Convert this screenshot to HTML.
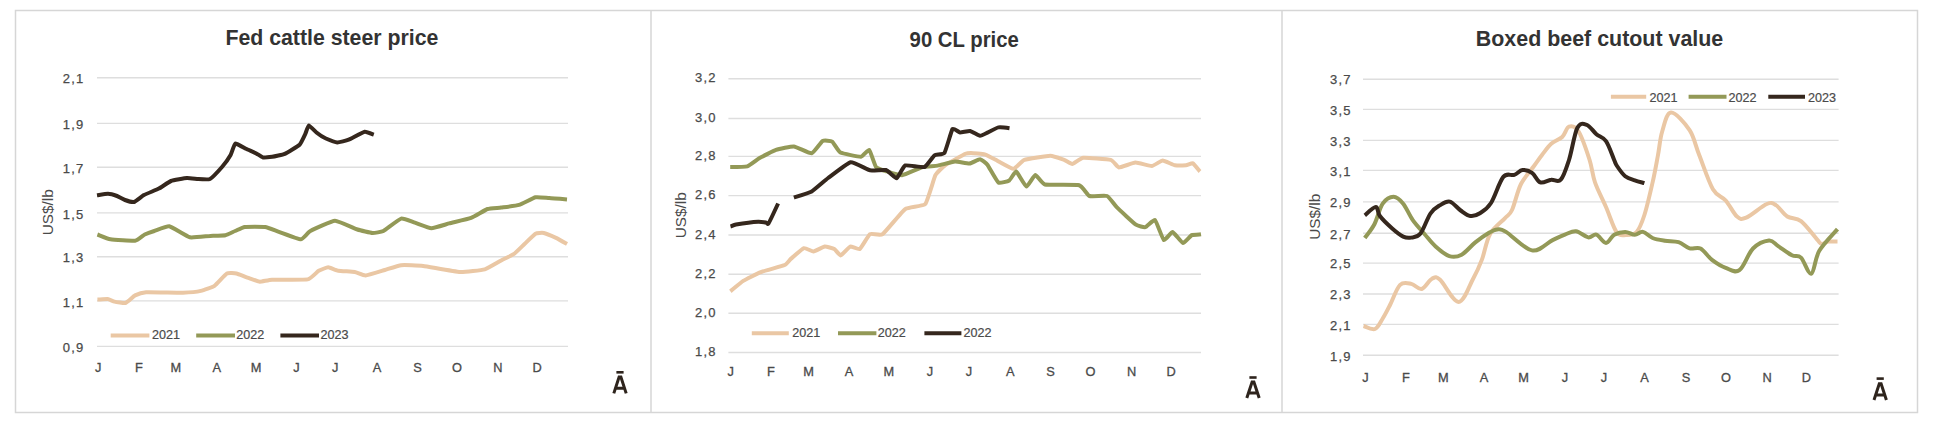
<!DOCTYPE html>
<html><head><meta charset="utf-8"><style>
html,body{margin:0;padding:0;background:#fff;width:1946px;height:438px;overflow:hidden}
svg{display:block}
text{font-family:"Liberation Sans",sans-serif}
</style></head><body>
<svg width="1946" height="438" viewBox="0 0 1946 438">
<rect x="0" y="0" width="1946" height="438" fill="#fff"/>

<rect x="15.5" y="10.5" width="1902" height="402" fill="none" stroke="#d6d6d6" stroke-width="1.5"/>
<line x1="651" y1="10.5" x2="651" y2="412.5" stroke="#d6d6d6" stroke-width="1.5"/>
<line x1="1282" y1="10.5" x2="1282" y2="412.5" stroke="#d6d6d6" stroke-width="1.5"/>
<line x1="97" y1="77.8" x2="568" y2="77.8" stroke="#dedede" stroke-width="1.4"/>
<text x="62.8" y="83.4" font-size="13" fill="#4a4a4a" stroke="#4a4a4a" stroke-width="0.25" textLength="20.5" lengthAdjust="spacing">2,1</text>
<line x1="97" y1="123.4" x2="568" y2="123.4" stroke="#dedede" stroke-width="1.4"/>
<text x="62.8" y="129.0" font-size="13" fill="#4a4a4a" stroke="#4a4a4a" stroke-width="0.25" textLength="20.5" lengthAdjust="spacing">1,9</text>
<line x1="97" y1="167.3" x2="568" y2="167.3" stroke="#dedede" stroke-width="1.4"/>
<text x="62.8" y="172.9" font-size="13" fill="#4a4a4a" stroke="#4a4a4a" stroke-width="0.25" textLength="20.5" lengthAdjust="spacing">1,7</text>
<line x1="97" y1="212.9" x2="568" y2="212.9" stroke="#dedede" stroke-width="1.4"/>
<text x="62.8" y="218.5" font-size="13" fill="#4a4a4a" stroke="#4a4a4a" stroke-width="0.25" textLength="20.5" lengthAdjust="spacing">1,5</text>
<line x1="97" y1="256.7" x2="568" y2="256.7" stroke="#dedede" stroke-width="1.4"/>
<text x="62.8" y="262.3" font-size="13" fill="#4a4a4a" stroke="#4a4a4a" stroke-width="0.25" textLength="20.5" lengthAdjust="spacing">1,3</text>
<line x1="97" y1="300.9" x2="568" y2="300.9" stroke="#dedede" stroke-width="1.4"/>
<text x="62.8" y="306.5" font-size="13" fill="#4a4a4a" stroke="#4a4a4a" stroke-width="0.25" textLength="20.5" lengthAdjust="spacing">1,1</text>
<line x1="97" y1="346.4" x2="568" y2="346.4" stroke="#dedede" stroke-width="1.4"/>
<text x="62.8" y="352.0" font-size="13" fill="#4a4a4a" stroke="#4a4a4a" stroke-width="0.25" textLength="20.5" lengthAdjust="spacing">0,9</text>
<text x="225.4" y="45.4" font-size="22" font-weight="bold" fill="#333333" textLength="213" lengthAdjust="spacingAndGlyphs">Fed cattle steer price</text>
<text x="98.1" y="372" font-size="12.8" fill="#4a4a4a" stroke="#4a4a4a" stroke-width="0.3" text-anchor="middle">J</text>
<text x="139.0" y="372" font-size="12.8" fill="#4a4a4a" stroke="#4a4a4a" stroke-width="0.3" text-anchor="middle">F</text>
<text x="175.8" y="372" font-size="12.8" fill="#4a4a4a" stroke="#4a4a4a" stroke-width="0.3" text-anchor="middle">M</text>
<text x="216.7" y="372" font-size="12.8" fill="#4a4a4a" stroke="#4a4a4a" stroke-width="0.3" text-anchor="middle">A</text>
<text x="256.1" y="372" font-size="12.8" fill="#4a4a4a" stroke="#4a4a4a" stroke-width="0.3" text-anchor="middle">M</text>
<text x="296.4" y="372" font-size="12.8" fill="#4a4a4a" stroke="#4a4a4a" stroke-width="0.3" text-anchor="middle">J</text>
<text x="335.2" y="372" font-size="12.8" fill="#4a4a4a" stroke="#4a4a4a" stroke-width="0.3" text-anchor="middle">J</text>
<text x="377.0" y="372" font-size="12.8" fill="#4a4a4a" stroke="#4a4a4a" stroke-width="0.3" text-anchor="middle">A</text>
<text x="417.6" y="372" font-size="12.8" fill="#4a4a4a" stroke="#4a4a4a" stroke-width="0.3" text-anchor="middle">S</text>
<text x="457.0" y="372" font-size="12.8" fill="#4a4a4a" stroke="#4a4a4a" stroke-width="0.3" text-anchor="middle">O</text>
<text x="497.8" y="372" font-size="12.8" fill="#4a4a4a" stroke="#4a4a4a" stroke-width="0.3" text-anchor="middle">N</text>
<text x="537.0" y="372" font-size="12.8" fill="#4a4a4a" stroke="#4a4a4a" stroke-width="0.3" text-anchor="middle">D</text>
<path d="M613.8,393.4 L619.1,377.1 L620.9,377.1 L626.2,393.4 M616.2,388.3 L623.8,388.3" fill="none" stroke="#2e241d" stroke-width="3" stroke-linejoin="miter"/>
<rect x="616.4" y="371.0" width="7.2" height="2.6" fill="#2e241d"/>
<text transform="translate(52.6,212.2) rotate(-90)" font-size="14" fill="#4a4a4a" text-anchor="middle" textLength="46" lengthAdjust="spacingAndGlyphs">US$/lb</text>
<line x1="728.4" y1="78.8" x2="1201" y2="78.8" stroke="#dedede" stroke-width="1.4"/>
<text x="695" y="82.4" font-size="13" fill="#4a4a4a" stroke="#4a4a4a" stroke-width="0.25" textLength="20.5" lengthAdjust="spacing">3,2</text>
<line x1="728.4" y1="118.5" x2="1201" y2="118.5" stroke="#dedede" stroke-width="1.4"/>
<text x="695" y="122.1" font-size="13" fill="#4a4a4a" stroke="#4a4a4a" stroke-width="0.25" textLength="20.5" lengthAdjust="spacing">3,0</text>
<line x1="728.4" y1="156.4" x2="1201" y2="156.4" stroke="#dedede" stroke-width="1.4"/>
<text x="695" y="160.0" font-size="13" fill="#4a4a4a" stroke="#4a4a4a" stroke-width="0.25" textLength="20.5" lengthAdjust="spacing">2,8</text>
<line x1="728.4" y1="195.6" x2="1201" y2="195.6" stroke="#dedede" stroke-width="1.4"/>
<text x="695" y="199.2" font-size="13" fill="#4a4a4a" stroke="#4a4a4a" stroke-width="0.25" textLength="20.5" lengthAdjust="spacing">2,6</text>
<line x1="728.4" y1="235.0" x2="1201" y2="235.0" stroke="#dedede" stroke-width="1.4"/>
<text x="695" y="238.6" font-size="13" fill="#4a4a4a" stroke="#4a4a4a" stroke-width="0.25" textLength="20.5" lengthAdjust="spacing">2,4</text>
<line x1="728.4" y1="274.2" x2="1201" y2="274.2" stroke="#dedede" stroke-width="1.4"/>
<text x="695" y="277.8" font-size="13" fill="#4a4a4a" stroke="#4a4a4a" stroke-width="0.25" textLength="20.5" lengthAdjust="spacing">2,2</text>
<line x1="728.4" y1="313.3" x2="1201" y2="313.3" stroke="#dedede" stroke-width="1.4"/>
<text x="695" y="316.9" font-size="13" fill="#4a4a4a" stroke="#4a4a4a" stroke-width="0.25" textLength="20.5" lengthAdjust="spacing">2,0</text>
<line x1="728.4" y1="352.5" x2="1201" y2="352.5" stroke="#dedede" stroke-width="1.4"/>
<text x="695" y="356.1" font-size="13" fill="#4a4a4a" stroke="#4a4a4a" stroke-width="0.25" textLength="20.5" lengthAdjust="spacing">1,8</text>
<text x="909.6" y="46.8" font-size="22" font-weight="bold" fill="#333333" textLength="109.2" lengthAdjust="spacingAndGlyphs">90 CL price</text>
<text x="730.7" y="376" font-size="12.8" fill="#4a4a4a" stroke="#4a4a4a" stroke-width="0.3" text-anchor="middle">J</text>
<text x="771.0" y="376" font-size="12.8" fill="#4a4a4a" stroke="#4a4a4a" stroke-width="0.3" text-anchor="middle">F</text>
<text x="808.5" y="376" font-size="12.8" fill="#4a4a4a" stroke="#4a4a4a" stroke-width="0.3" text-anchor="middle">M</text>
<text x="849.0" y="376" font-size="12.8" fill="#4a4a4a" stroke="#4a4a4a" stroke-width="0.3" text-anchor="middle">A</text>
<text x="888.8" y="376" font-size="12.8" fill="#4a4a4a" stroke="#4a4a4a" stroke-width="0.3" text-anchor="middle">M</text>
<text x="929.9" y="376" font-size="12.8" fill="#4a4a4a" stroke="#4a4a4a" stroke-width="0.3" text-anchor="middle">J</text>
<text x="969.0" y="376" font-size="12.8" fill="#4a4a4a" stroke="#4a4a4a" stroke-width="0.3" text-anchor="middle">J</text>
<text x="1010.2" y="376" font-size="12.8" fill="#4a4a4a" stroke="#4a4a4a" stroke-width="0.3" text-anchor="middle">A</text>
<text x="1050.5" y="376" font-size="12.8" fill="#4a4a4a" stroke="#4a4a4a" stroke-width="0.3" text-anchor="middle">S</text>
<text x="1090.4" y="376" font-size="12.8" fill="#4a4a4a" stroke="#4a4a4a" stroke-width="0.3" text-anchor="middle">O</text>
<text x="1131.5" y="376" font-size="12.8" fill="#4a4a4a" stroke="#4a4a4a" stroke-width="0.3" text-anchor="middle">N</text>
<text x="1171.2" y="376" font-size="12.8" fill="#4a4a4a" stroke="#4a4a4a" stroke-width="0.3" text-anchor="middle">D</text>
<path d="M1246.8,398.0 L1252.1,382.1 L1253.9,382.1 L1259.2,398.0 M1249.2,393.0 L1256.8,393.0" fill="none" stroke="#2e241d" stroke-width="3" stroke-linejoin="miter"/>
<rect x="1249.4" y="376.2" width="7.2" height="2.6" fill="#2e241d"/>
<text transform="translate(685.6,215.2) rotate(-90)" font-size="14" fill="#4a4a4a" text-anchor="middle" textLength="46" lengthAdjust="spacingAndGlyphs">US$/lb</text>
<line x1="1363" y1="79.2" x2="1838.6" y2="79.2" stroke="#dedede" stroke-width="1.4"/>
<text x="1330" y="84.4" font-size="13" fill="#4a4a4a" stroke="#4a4a4a" stroke-width="0.25" textLength="20.5" lengthAdjust="spacing">3,7</text>
<line x1="1363" y1="109.4" x2="1838.6" y2="109.4" stroke="#dedede" stroke-width="1.4"/>
<text x="1330" y="114.6" font-size="13" fill="#4a4a4a" stroke="#4a4a4a" stroke-width="0.25" textLength="20.5" lengthAdjust="spacing">3,5</text>
<line x1="1363" y1="140.4" x2="1838.6" y2="140.4" stroke="#dedede" stroke-width="1.4"/>
<text x="1330" y="145.6" font-size="13" fill="#4a4a4a" stroke="#4a4a4a" stroke-width="0.25" textLength="20.5" lengthAdjust="spacing">3,3</text>
<line x1="1363" y1="170.4" x2="1838.6" y2="170.4" stroke="#dedede" stroke-width="1.4"/>
<text x="1330" y="175.6" font-size="13" fill="#4a4a4a" stroke="#4a4a4a" stroke-width="0.25" textLength="20.5" lengthAdjust="spacing">3,1</text>
<line x1="1363" y1="201.9" x2="1838.6" y2="201.9" stroke="#dedede" stroke-width="1.4"/>
<text x="1330" y="207.1" font-size="13" fill="#4a4a4a" stroke="#4a4a4a" stroke-width="0.25" textLength="20.5" lengthAdjust="spacing">2,9</text>
<line x1="1363" y1="233.3" x2="1838.6" y2="233.3" stroke="#dedede" stroke-width="1.4"/>
<text x="1330" y="238.5" font-size="13" fill="#4a4a4a" stroke="#4a4a4a" stroke-width="0.25" textLength="20.5" lengthAdjust="spacing">2,7</text>
<line x1="1363" y1="263.1" x2="1838.6" y2="263.1" stroke="#dedede" stroke-width="1.4"/>
<text x="1330" y="268.3" font-size="13" fill="#4a4a4a" stroke="#4a4a4a" stroke-width="0.25" textLength="20.5" lengthAdjust="spacing">2,5</text>
<line x1="1363" y1="294.0" x2="1838.6" y2="294.0" stroke="#dedede" stroke-width="1.4"/>
<text x="1330" y="299.2" font-size="13" fill="#4a4a4a" stroke="#4a4a4a" stroke-width="0.25" textLength="20.5" lengthAdjust="spacing">2,3</text>
<line x1="1363" y1="324.4" x2="1838.6" y2="324.4" stroke="#dedede" stroke-width="1.4"/>
<text x="1330" y="329.6" font-size="13" fill="#4a4a4a" stroke="#4a4a4a" stroke-width="0.25" textLength="20.5" lengthAdjust="spacing">2,1</text>
<line x1="1363" y1="355.3" x2="1838.6" y2="355.3" stroke="#dedede" stroke-width="1.4"/>
<text x="1330" y="360.5" font-size="13" fill="#4a4a4a" stroke="#4a4a4a" stroke-width="0.25" textLength="20.5" lengthAdjust="spacing">1,9</text>
<text x="1475.8" y="45.9" font-size="22" font-weight="bold" fill="#333333" textLength="247.5" lengthAdjust="spacingAndGlyphs">Boxed beef cutout value</text>
<text x="1365.4" y="381.5" font-size="12.8" fill="#4a4a4a" stroke="#4a4a4a" stroke-width="0.3" text-anchor="middle">J</text>
<text x="1406.0" y="381.5" font-size="12.8" fill="#4a4a4a" stroke="#4a4a4a" stroke-width="0.3" text-anchor="middle">F</text>
<text x="1443.3" y="381.5" font-size="12.8" fill="#4a4a4a" stroke="#4a4a4a" stroke-width="0.3" text-anchor="middle">M</text>
<text x="1484.0" y="381.5" font-size="12.8" fill="#4a4a4a" stroke="#4a4a4a" stroke-width="0.3" text-anchor="middle">A</text>
<text x="1523.7" y="381.5" font-size="12.8" fill="#4a4a4a" stroke="#4a4a4a" stroke-width="0.3" text-anchor="middle">M</text>
<text x="1565.0" y="381.5" font-size="12.8" fill="#4a4a4a" stroke="#4a4a4a" stroke-width="0.3" text-anchor="middle">J</text>
<text x="1604.0" y="381.5" font-size="12.8" fill="#4a4a4a" stroke="#4a4a4a" stroke-width="0.3" text-anchor="middle">J</text>
<text x="1644.6" y="381.5" font-size="12.8" fill="#4a4a4a" stroke="#4a4a4a" stroke-width="0.3" text-anchor="middle">A</text>
<text x="1686.0" y="381.5" font-size="12.8" fill="#4a4a4a" stroke="#4a4a4a" stroke-width="0.3" text-anchor="middle">S</text>
<text x="1726.0" y="381.5" font-size="12.8" fill="#4a4a4a" stroke="#4a4a4a" stroke-width="0.3" text-anchor="middle">O</text>
<text x="1767.0" y="381.5" font-size="12.8" fill="#4a4a4a" stroke="#4a4a4a" stroke-width="0.3" text-anchor="middle">N</text>
<text x="1806.4" y="381.5" font-size="12.8" fill="#4a4a4a" stroke="#4a4a4a" stroke-width="0.3" text-anchor="middle">D</text>
<path d="M1874.0,400.0 L1879.3,383.7 L1881.1,383.7 L1886.4,400.0 M1876.4,394.9 L1884.0,394.9" fill="none" stroke="#2e241d" stroke-width="3" stroke-linejoin="miter"/>
<rect x="1876.6" y="377.3" width="7.2" height="2.6" fill="#2e241d"/>
<text transform="translate(1320,216.8) rotate(-90)" font-size="14" fill="#4a4a4a" text-anchor="middle" textLength="46" lengthAdjust="spacingAndGlyphs">US$/lb</text>
<line x1="110.7" y1="335.4" x2="149.4" y2="335.4" stroke="#eac7a4" stroke-width="4" stroke-linecap="butt"/>
<text x="152" y="339.2" font-size="12.5" fill="#4a4a4a" stroke="#4a4a4a" stroke-width="0.2" textLength="28" lengthAdjust="spacingAndGlyphs">2021</text>
<line x1="196.2" y1="335.4" x2="235" y2="335.4" stroke="#939957" stroke-width="4" stroke-linecap="butt"/>
<text x="236.3" y="339.2" font-size="12.5" fill="#4a4a4a" stroke="#4a4a4a" stroke-width="0.2" textLength="28" lengthAdjust="spacingAndGlyphs">2022</text>
<line x1="280.4" y1="335.4" x2="319" y2="335.4" stroke="#35271d" stroke-width="4" stroke-linecap="butt"/>
<text x="320.4" y="339.2" font-size="12.5" fill="#4a4a4a" stroke="#4a4a4a" stroke-width="0.2" textLength="28" lengthAdjust="spacingAndGlyphs">2023</text>
<line x1="751.8" y1="333.3" x2="788.8" y2="333.3" stroke="#eac7a4" stroke-width="4" stroke-linecap="butt"/>
<text x="792.3" y="337.1" font-size="12.5" fill="#4a4a4a" stroke="#4a4a4a" stroke-width="0.2" textLength="28" lengthAdjust="spacingAndGlyphs">2021</text>
<line x1="838" y1="333.3" x2="876.4" y2="333.3" stroke="#939957" stroke-width="4" stroke-linecap="butt"/>
<text x="877.8" y="337.1" font-size="12.5" fill="#4a4a4a" stroke="#4a4a4a" stroke-width="0.2" textLength="28" lengthAdjust="spacingAndGlyphs">2022</text>
<line x1="924.4" y1="333.3" x2="961.4" y2="333.3" stroke="#35271d" stroke-width="4" stroke-linecap="butt"/>
<text x="963.6" y="337.1" font-size="12.5" fill="#4a4a4a" stroke="#4a4a4a" stroke-width="0.2" textLength="28" lengthAdjust="spacingAndGlyphs">2022</text>
<line x1="1610.9" y1="96.7" x2="1646.2" y2="96.7" stroke="#eac7a4" stroke-width="4" stroke-linecap="butt"/>
<text x="1649.5" y="101.9" font-size="12.5" fill="#4a4a4a" stroke="#4a4a4a" stroke-width="0.2" textLength="28" lengthAdjust="spacingAndGlyphs">2021</text>
<line x1="1688.6" y1="96.7" x2="1726.5" y2="96.7" stroke="#939957" stroke-width="4" stroke-linecap="butt"/>
<text x="1728.5" y="101.9" font-size="12.5" fill="#4a4a4a" stroke="#4a4a4a" stroke-width="0.2" textLength="28" lengthAdjust="spacingAndGlyphs">2022</text>
<line x1="1768.3" y1="96.7" x2="1805" y2="96.7" stroke="#35271d" stroke-width="4" stroke-linecap="butt"/>
<text x="1808" y="101.9" font-size="12.5" fill="#4a4a4a" stroke="#4a4a4a" stroke-width="0.2" textLength="28" lengthAdjust="spacingAndGlyphs">2023</text>
<path d="M97.4,299.5 C98.1,299.5 106.6,299.0 107.7,299.1 C108.8,299.2 113.3,301.3 114.5,301.6 C115.7,301.9 124.1,303.4 125.5,303.0 C126.9,302.6 133.7,296.1 135.1,295.4 C136.5,294.7 142.9,292.5 146.1,292.3 C149.3,292.1 179.4,292.8 183.0,292.7 C186.6,292.6 198.7,291.4 200.8,290.9 C202.9,290.4 212.8,287.0 214.5,285.8 C216.2,284.6 225.4,274.3 226.9,273.5 C228.4,272.7 235.1,273.2 236.5,273.5 C237.9,273.8 245.8,277.1 247.4,277.6 C249.0,278.1 258.2,281.6 259.8,281.7 C261.4,281.8 268.9,279.9 272.1,279.7 C275.3,279.5 304.6,280.0 307.7,279.4 C310.8,278.8 317.3,271.6 318.7,270.8 C320.1,270.0 326.9,267.3 328.2,267.3 C329.5,267.3 336.4,270.4 338.2,270.7 C340.0,271.0 352.9,271.7 354.7,272.0 C356.5,272.3 363.6,275.6 365.6,275.5 C367.6,275.4 382.4,270.7 384.8,270.0 C387.2,269.3 398.6,265.5 401.2,265.2 C403.8,264.9 419.3,265.4 423.2,265.9 C427.1,266.4 456.0,271.8 460.1,272.0 C464.2,272.2 482.1,270.1 484.8,269.3 C487.5,268.5 499.3,261.4 501.2,260.4 C503.1,259.4 512.0,255.3 513.6,254.2 C515.2,253.1 523.0,245.4 524.5,244.0 C526.0,242.6 534.2,234.4 535.5,233.7 C536.8,233.0 542.3,232.7 543.7,233.0 C545.1,233.3 554.4,237.1 556.0,237.8 C557.6,238.5 566.3,243.6 567.0,244.0" fill="none" stroke="#eac7a4" stroke-width="4" stroke-linejoin="round" stroke-linecap="butt"/>
<path d="M97.4,234.5 C98.3,234.8 107.9,238.9 110.4,239.3 C112.9,239.7 132.8,241.0 135.1,240.7 C137.4,240.4 143.4,235.1 144.7,234.5 C146.0,233.9 152.7,231.5 154.3,231.0 C155.9,230.5 166.9,225.9 169.3,226.3 C171.7,226.7 187.2,236.7 189.9,237.3 C192.6,237.9 208.0,236.0 210.4,235.9 C212.8,235.8 223.9,235.5 225.5,235.2 C227.1,234.9 233.8,231.5 235.1,231.0 C236.4,230.5 242.7,227.3 244.7,227.0 C246.7,226.7 262.9,226.7 265.2,227.0 C267.5,227.3 276.5,231.0 278.9,231.8 C281.3,232.6 298.7,239.4 300.8,239.3 C302.9,239.2 308.1,232.2 310.4,231.0 C312.7,229.8 331.9,220.8 335.0,220.7 C338.1,220.6 354.9,228.7 357.4,229.5 C359.9,230.3 370.8,232.9 372.5,233.0 C374.2,233.1 381.5,231.9 383.4,230.9 C385.3,229.9 399.1,219.1 401.2,218.6 C403.3,218.1 412.9,222.1 414.9,222.7 C416.9,223.3 429.1,228.2 431.4,228.2 C433.7,228.2 446.6,224.1 449.2,223.4 C451.8,222.7 468.5,218.9 471.1,217.9 C473.7,216.9 485.5,209.7 487.5,209.0 C489.5,208.3 499.1,207.9 501.2,207.6 C503.3,207.3 516.7,205.6 519.0,204.9 C521.3,204.2 533.5,197.8 535.5,197.3 C537.5,196.8 547.1,197.9 549.2,198.0 C551.3,198.1 565.8,199.3 567.0,199.4" fill="none" stroke="#939957" stroke-width="4" stroke-linejoin="round" stroke-linecap="butt"/>
<path d="M97.0,195.3 C97.7,195.2 106.7,193.8 108.0,193.8 C109.3,193.8 115.9,195.6 117.0,196.0 C118.1,196.4 123.9,199.6 125.0,200.0 C126.1,200.4 132.7,202.3 134.0,202.0 C135.3,201.7 142.3,195.9 144.0,195.0 C145.7,194.1 157.2,189.4 159.0,188.5 C160.8,187.6 169.1,181.7 171.0,181.0 C172.9,180.3 185.2,178.1 187.0,178.0 C188.8,177.9 196.5,178.9 198.0,179.0 C199.5,179.1 208.4,179.8 210.0,179.0 C211.6,178.2 220.6,168.6 222.0,167.0 C223.4,165.4 229.7,156.6 230.6,155.0 C231.5,153.4 234.3,143.9 235.3,143.5 C236.3,143.1 244.6,148.1 246.0,148.8 C247.4,149.5 255.2,152.8 256.3,153.4 C257.4,154.0 261.9,157.3 263.0,157.5 C264.1,157.7 270.7,157.0 272.2,156.8 C273.7,156.6 283.0,154.6 284.8,153.8 C286.6,153.0 298.2,146.0 299.6,144.7 C301.0,143.4 304.7,135.3 305.3,134.0 C305.9,132.7 308.0,125.6 308.8,125.5 C309.6,125.4 315.7,131.9 316.8,132.8 C317.9,133.7 324.5,137.9 325.9,138.5 C327.3,139.1 335.8,142.3 337.3,142.4 C338.8,142.5 346.9,140.4 348.7,139.7 C350.5,139.0 363.0,132.0 364.7,131.7 C366.4,131.4 373.2,134.5 373.8,134.7" fill="none" stroke="#35271d" stroke-width="4" stroke-linejoin="round" stroke-linecap="butt"/>
<path d="M730.4,291.3 C731.3,290.6 741.2,282.2 743.2,280.9 C745.2,279.6 758.0,273.2 760.8,272.1 C763.6,271.0 782.7,265.9 784.7,265.0 C786.7,264.1 789.8,259.7 791.1,258.6 C792.4,257.5 802.4,248.7 803.9,248.2 C805.4,247.7 812.1,251.5 813.5,251.4 C814.9,251.3 823.3,246.8 824.7,246.6 C826.1,246.4 833.2,248.4 834.3,249.0 C835.4,249.6 839.6,255.6 840.7,255.4 C841.8,255.2 848.9,247.0 850.2,246.6 C851.5,246.2 858.5,249.8 859.8,249.0 C861.1,248.2 868.5,235.2 870.0,234.2 C871.5,233.2 880.3,235.9 882.6,234.2 C884.9,232.5 902.4,211.1 905.2,209.1 C908.0,207.1 923.3,206.3 925.3,204.0 C927.3,201.7 934.1,177.8 935.4,175.2 C936.7,172.6 943.4,166.5 945.4,165.1 C947.4,163.7 963.8,154.6 965.5,153.8 C967.2,153.0 969.7,153.0 971.0,153.0 C972.3,153.0 983.0,153.9 984.7,154.4 C986.4,154.9 995.1,159.5 997.0,160.5 C998.9,161.5 1011.6,168.8 1013.4,168.8 C1015.2,168.8 1021.9,160.8 1024.4,159.9 C1026.9,159.0 1047.8,155.8 1050.4,155.8 C1053.0,155.8 1062.6,159.4 1064.1,159.9 C1065.6,160.4 1071.0,164.1 1072.3,164.0 C1073.6,163.9 1080.7,158.1 1083.3,157.8 C1085.9,157.5 1108.3,159.3 1110.7,159.9 C1113.1,160.5 1117.3,167.2 1118.9,167.4 C1120.5,167.6 1133.1,162.7 1135.3,162.6 C1137.5,162.5 1150.0,166.1 1151.8,166.0 C1153.6,165.9 1161.2,160.5 1162.7,160.5 C1164.2,160.5 1173.4,165.0 1175.0,165.3 C1176.6,165.6 1184.8,165.4 1186.0,165.3 C1187.2,165.2 1192.0,162.9 1192.9,163.3 C1193.8,163.7 1199.5,171.0 1200.0,171.5" fill="none" stroke="#eac7a4" stroke-width="4" stroke-linejoin="round" stroke-linecap="butt"/>
<path d="M730.2,167.0 C731.3,167.0 745.3,166.9 747.3,166.3 C749.3,165.7 757.7,159.1 759.6,158.0 C761.5,156.9 773.7,150.7 776.0,149.9 C778.3,149.1 791.5,146.2 793.9,146.4 C796.3,146.6 809.8,153.7 811.7,153.3 C813.6,152.9 821.2,141.8 822.6,141.0 C824.0,140.2 831.0,140.8 832.2,141.6 C833.4,142.4 838.5,151.6 840.4,152.6 C842.3,153.6 859.1,156.9 861.0,156.7 C862.9,156.5 868.2,149.2 869.2,149.9 C870.2,150.6 874.9,165.6 876.0,167.0 C877.1,168.4 883.9,170.5 885.6,171.0 C887.3,171.5 899.5,175.5 902.0,175.2 C904.5,174.9 920.2,167.6 922.6,167.0 C925.0,166.4 935.5,166.0 937.7,165.6 C939.9,165.2 952.9,161.6 955.0,161.5 C957.1,161.4 967.8,163.7 969.5,163.5 C971.2,163.3 978.8,159.1 980.0,159.2 C981.2,159.3 986.2,163.1 987.4,164.7 C988.6,166.3 996.9,181.5 998.4,182.5 C999.9,183.5 1008.1,181.1 1009.3,180.4 C1010.5,179.7 1015.1,171.1 1016.2,171.5 C1017.3,171.9 1025.1,186.4 1026.4,186.6 C1027.7,186.8 1034.1,175.0 1035.3,174.9 C1036.5,174.8 1042.0,183.8 1044.9,184.5 C1047.8,185.2 1076.2,184.4 1079.2,185.2 C1082.2,186.0 1087.6,195.3 1089.5,196.0 C1091.4,196.7 1105.3,195.3 1107.1,196.0 C1108.9,196.7 1114.8,205.3 1116.7,207.2 C1118.6,209.1 1134.0,223.4 1135.9,224.7 C1137.8,226.0 1144.1,227.4 1145.4,227.1 C1146.7,226.8 1153.8,219.1 1155.0,220.0 C1156.2,220.9 1162.6,239.2 1163.8,240.0 C1165.0,240.8 1171.3,231.8 1172.6,232.0 C1173.9,232.2 1181.7,242.9 1183.0,243.1 C1184.3,243.3 1190.6,235.7 1191.8,235.1 C1193.0,234.5 1200.4,234.4 1201.0,234.3" fill="none" stroke="#939957" stroke-width="4" stroke-linejoin="round" stroke-linecap="butt"/>
<path d="M730.5,226.5 C730.9,226.4 734.2,224.8 736.0,224.5 C737.8,224.2 756.2,221.9 758.2,221.8 C760.2,221.7 765.3,222.4 766.0,222.5 C766.7,222.6 767.7,224.8 768.5,223.5 C769.3,222.2 777.5,204.8 778.1,203.5" fill="none" stroke="#35271d" stroke-width="4" stroke-linejoin="round" stroke-linecap="butt"/>
<path d="M793.9,197.6 C795.1,197.2 809.4,192.7 811.7,191.4 C814.0,190.1 825.5,179.9 828.1,178.0 C830.7,176.1 847.9,162.7 850.7,162.2 C853.5,161.7 867.6,169.8 870.0,170.3 C872.4,170.8 884.2,169.5 886.0,170.0 C887.8,170.5 895.3,178.5 896.6,178.2 C897.9,177.9 903.3,166.2 905.2,165.5 C907.1,164.8 922.5,167.7 924.5,167.0 C926.5,166.3 933.2,156.2 934.5,155.3 C935.8,154.4 943.3,154.6 944.5,152.8 C945.7,151.0 951.5,130.4 952.5,129.0 C953.5,127.6 958.8,132.3 960.0,132.4 C961.2,132.5 968.7,130.8 970.0,131.0 C971.3,131.2 978.8,135.7 980.0,135.8 C981.2,135.9 986.2,133.2 987.4,132.6 C988.6,132.0 996.9,127.7 998.4,127.4 C999.9,127.1 1008.8,128.1 1009.5,128.2" fill="none" stroke="#35271d" stroke-width="4" stroke-linejoin="round" stroke-linecap="butt"/>
<path d="M1363.5,326.0 C1365.4,326.5 1371.8,330.3 1375.0,329.0 C1378.2,327.7 1380.5,322.0 1383.0,318.0 C1385.5,314.0 1387.2,310.5 1390.0,305.0 C1392.8,299.5 1396.5,288.4 1400.1,284.9 C1403.7,281.4 1407.8,283.2 1411.4,283.9 C1415.0,284.6 1418.3,289.9 1421.7,289.0 C1425.1,288.1 1428.9,280.2 1432.0,278.7 C1435.1,277.2 1435.7,275.9 1440.1,279.8 C1444.5,283.7 1453.1,302.1 1458.6,302.0 C1464.1,301.9 1469.1,286.1 1473.0,279.0 C1476.9,271.9 1479.2,266.9 1482.0,259.4 C1484.8,251.9 1486.2,241.0 1490.0,234.2 C1493.8,227.3 1501.1,222.3 1504.8,218.3 C1508.5,214.3 1509.3,215.7 1512.0,210.0 C1514.7,204.3 1517.3,191.3 1521.0,184.0 C1524.7,176.7 1530.5,170.8 1534.0,166.0 C1537.5,161.2 1539.1,158.7 1542.0,155.0 C1544.9,151.3 1547.8,146.8 1551.2,143.8 C1554.6,140.8 1559.2,139.8 1562.2,137.0 C1565.2,134.2 1566.3,127.6 1569.0,126.7 C1571.7,125.8 1575.2,126.0 1578.6,131.5 C1582.0,137.1 1586.9,151.5 1589.6,160.0 C1592.3,168.5 1592.3,174.6 1595.0,182.4 C1597.7,190.2 1602.4,198.7 1606.0,207.0 C1609.6,215.3 1613.2,227.3 1616.5,232.0 C1619.8,236.7 1622.7,235.0 1626.0,235.0 C1629.3,235.0 1633.5,235.3 1636.6,232.0 C1639.7,228.7 1641.7,223.3 1644.4,215.0 C1647.1,206.7 1650.3,192.4 1652.6,182.4 C1654.9,172.4 1656.4,163.5 1658.0,155.0 C1659.6,146.5 1660.0,138.6 1662.2,131.5 C1664.4,124.4 1666.4,112.7 1671.0,112.5 C1675.6,112.3 1684.9,123.0 1689.6,130.1 C1694.3,137.2 1695.3,145.2 1699.2,155.0 C1703.1,164.8 1708.5,181.6 1712.9,189.2 C1717.3,196.8 1721.7,195.9 1725.7,200.5 C1729.7,205.1 1733.6,213.6 1737.0,216.5 C1740.4,219.4 1741.2,219.8 1746.2,217.7 C1751.2,215.6 1761.8,206.1 1766.8,204.0 C1771.8,201.9 1772.5,203.0 1775.9,205.1 C1779.3,207.2 1783.1,213.8 1787.3,216.5 C1791.5,219.2 1796.0,217.3 1801.0,221.1 C1806.0,224.9 1813.6,235.6 1817.0,239.4 C1820.4,243.2 1819.7,243.5 1821.6,243.9 C1823.5,244.3 1825.8,242.0 1828.4,241.6 C1831.1,241.2 1836.0,241.6 1837.5,241.6" fill="none" stroke="#eac7a4" stroke-width="4" stroke-linejoin="round" stroke-linecap="butt"/>
<path d="M1364.8,238.0 C1366.4,235.7 1371.4,229.9 1374.4,224.2 C1377.4,218.5 1379.5,208.3 1382.7,203.7 C1385.9,199.1 1390.2,196.8 1393.6,196.8 C1397.0,196.8 1400.0,199.8 1403.2,203.7 C1406.4,207.6 1409.2,215.0 1412.8,220.1 C1416.4,225.2 1420.9,229.8 1424.7,234.2 C1428.5,238.6 1431.5,242.8 1435.6,246.5 C1439.7,250.2 1445.0,254.7 1449.3,256.1 C1453.6,257.5 1457.3,257.0 1461.6,254.7 C1465.9,252.4 1470.7,246.1 1475.3,242.4 C1479.9,238.8 1485.3,235.0 1489.0,232.8 C1492.7,230.6 1494.5,229.6 1497.3,229.4 C1500.1,229.2 1500.2,228.4 1506.0,231.9 C1511.8,235.4 1524.2,249.0 1532.0,250.4 C1539.8,251.8 1547.1,242.7 1552.6,240.1 C1558.1,237.5 1561.0,236.2 1564.9,234.7 C1568.8,233.2 1572.0,230.8 1575.9,231.2 C1579.8,231.6 1584.8,236.8 1588.2,237.4 C1591.6,238.0 1593.4,233.8 1596.4,234.7 C1599.4,235.6 1603.0,242.9 1606.0,242.9 C1609.0,242.9 1611.0,236.5 1614.2,234.7 C1617.4,232.9 1621.8,231.9 1625.2,231.9 C1628.6,231.9 1631.8,234.7 1634.8,234.7 C1637.8,234.7 1640.0,231.3 1643.0,231.9 C1646.0,232.5 1648.9,236.5 1652.6,238.0 C1656.3,239.5 1660.7,240.1 1665.0,240.8 C1669.3,241.5 1674.5,240.9 1678.6,242.2 C1682.7,243.5 1685.9,247.3 1689.6,248.4 C1693.2,249.5 1696.8,246.6 1700.5,248.5 C1704.2,250.4 1707.8,256.7 1712.0,259.9 C1716.2,263.1 1721.1,266.2 1725.7,267.9 C1730.3,269.6 1734.9,273.4 1739.4,270.2 C1744.0,267.0 1748.1,253.4 1753.0,248.5 C1757.9,243.6 1764.8,240.9 1769.0,240.5 C1773.2,240.1 1774.4,243.7 1778.2,246.2 C1782.0,248.7 1788.1,253.4 1791.9,255.3 C1795.7,257.2 1797.8,254.6 1801.0,257.6 C1804.2,260.7 1808.2,274.7 1811.3,273.6 C1814.3,272.5 1814.9,258.2 1819.3,250.8 C1823.7,243.4 1834.5,232.7 1837.5,229.1" fill="none" stroke="#939957" stroke-width="4" stroke-linejoin="round" stroke-linecap="butt"/>
<path d="M1364.8,215.3 C1366.6,213.9 1373.3,207.0 1375.8,207.1 C1378.3,207.2 1377.2,212.4 1379.9,216.0 C1382.6,219.6 1388.3,225.0 1392.2,228.4 C1396.1,231.8 1400.1,235.1 1403.2,236.6 C1406.3,238.1 1408.1,238.1 1411.0,237.6 C1413.9,237.1 1417.2,237.6 1420.5,233.5 C1423.8,229.4 1427.3,218.0 1430.6,213.3 C1433.9,208.6 1437.0,207.1 1440.2,205.1 C1443.4,203.1 1446.4,200.7 1449.8,201.6 C1453.2,202.5 1457.3,208.1 1460.7,210.5 C1464.1,212.9 1467.1,215.5 1470.3,216.0 C1473.5,216.5 1476.5,215.5 1479.9,213.3 C1483.4,211.1 1487.1,209.1 1491.0,203.0 C1494.9,196.9 1499.4,181.6 1503.3,176.9 C1507.2,172.2 1511.0,176.1 1514.2,174.9 C1517.4,173.8 1519.5,170.3 1522.5,170.0 C1525.5,169.7 1529.0,170.7 1532.0,172.8 C1535.0,174.9 1537.1,181.2 1540.3,182.4 C1543.5,183.6 1547.8,180.1 1551.2,179.7 C1554.6,179.2 1557.8,183.0 1560.8,179.7 C1563.8,176.4 1566.2,168.6 1569.0,160.0 C1571.8,151.4 1574.3,133.9 1577.3,128.0 C1580.3,122.1 1583.6,123.8 1586.8,124.8 C1590.0,125.8 1593.2,131.5 1596.4,134.2 C1599.6,136.9 1603.0,136.8 1606.0,141.1 C1609.0,145.4 1612.4,155.8 1614.2,160.0 C1616.0,164.2 1615.2,163.3 1617.0,166.0 C1618.8,168.7 1622.2,173.8 1625.2,176.2 C1628.2,178.6 1631.6,179.2 1634.8,180.3 C1638.0,181.5 1642.8,182.6 1644.4,183.1" fill="none" stroke="#35271d" stroke-width="4" stroke-linejoin="round" stroke-linecap="butt"/>
</svg></body></html>
